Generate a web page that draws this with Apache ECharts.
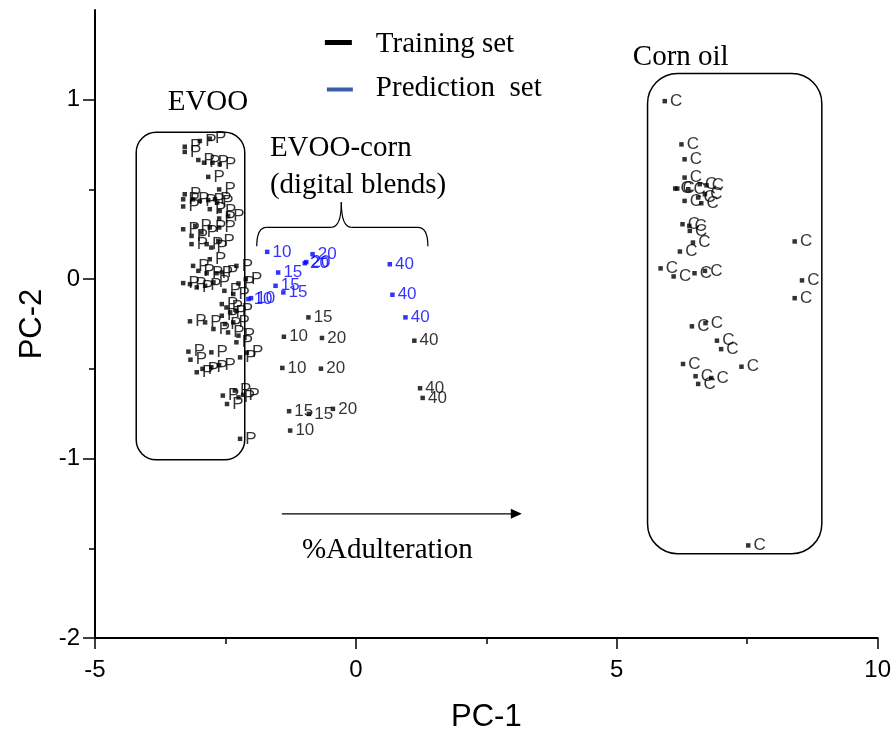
<!DOCTYPE html>
<html>
<head>
<meta charset="utf-8">
<script src="https://cdn.jsdelivr.net/npm/echarts@6/dist/echarts.min.js"></script>
<style>
  html, body { margin: 0; padding: 0; background: #fff; }
  #chart { width: 894px; height: 738px; }
</style>
</head>
<body>
<div id="chart"></div>
<script>
// PCA score plot: EVOO samples (P), corn oil samples (C) and digital EVOO-corn blends (% corn)

// EVOO samples
const evooX = [-3.28, -3.28, -2.99, -2.80, -3.02, -2.91, -2.75, -2.61, -2.83, -2.62,
  -3.28, -3.31, -3.31, -3.12, -2.99, -2.83, -2.70, -2.66, -2.80, -2.61,
  -2.62, -2.45, -3.31, -3.08, -3.15, -2.96, -2.80, -2.62, -3.15, -2.86,
  -2.64, -2.77, -2.80, -3.12, -3.02, -2.86, -2.67, -2.57, -2.29, -3.31,
  -3.18, -3.05, -2.89, -2.73, -2.52, -2.25, -2.11, -2.35, -2.57, -2.48,
  -2.41, -2.29, -3.18, -2.89, -2.73, -2.57, -2.51, -2.45, -2.35, -2.29,
  -2.25, -3.21, -3.17, -2.77, -3.05, -2.94, -2.77, -2.62, -2.22, -2.09,
  -2.55, -2.47, -2.32, -2.25, -2.16, -2.22];
const evooY = [0.738, 0.709, 0.770, 0.783, 0.664, 0.649, 0.649, 0.640, 0.570, 0.500,
  0.473, 0.445, 0.405, 0.445, 0.436, 0.440, 0.445, 0.427, 0.390, 0.380,
  0.338, 0.352, 0.278, 0.297, 0.241, 0.260, 0.288, 0.288, 0.195, 0.195,
  0.213, 0.176, 0.111, 0.074, 0.046, 0.033, 0.033, 0.037, 0.074, -0.022,
  -0.028, -0.046, -0.037, -0.018, -0.065, -0.024, 0.000, -0.083, -0.139, -0.158,
  -0.185, -0.176, -0.235, -0.241, -0.278, -0.204, -0.250, -0.297, -0.241, -0.352,
  -0.315, -0.404, -0.449, -0.408, -0.519, -0.500, -0.491, -0.479, -0.436, -0.410,
  -0.649, -0.696, -0.621, -0.659, -0.645, -0.890];

// Corn oil samples
const cornX = [5.92, 6.24, 6.30, 6.30, 6.12, 6.16, 6.37, 6.59, 6.72, 6.30,
  6.56, 6.62, 6.69, 6.26, 6.39, 6.40, 6.46, 6.21, 5.84, 6.09,
  6.49, 6.69, 8.41, 8.55, 8.41, 6.44, 6.70, 6.92, 7.00, 6.27,
  7.39, 6.51, 6.56, 6.81, 7.52];
const cornY = [0.992, 0.751, 0.668, 0.566, 0.505, 0.505, 0.501, 0.529, 0.523, 0.436,
  0.455, 0.423, 0.473, 0.306, 0.297, 0.269, 0.204, 0.154, 0.060, 0.015,
  0.033, 0.046, 0.210, -0.007, -0.106, -0.263, -0.245, -0.343, -0.390, -0.473,
  -0.488, -0.541, -0.584, -0.551, -1.484];

// Digital blends, training set
const trainX = [-0.91, -1.38, -0.65, -1.41, -0.67, 1.12, 1.23, 1.28, -1.28, -0.90, -0.44, -1.26];
const trainY = [-0.213, -0.321, -0.328, -0.495, -0.499, -0.343, -0.608, -0.662, -0.736, -0.751, -0.723, -0.844];
const trainPct = [15, 10, 20, 10, 20, 40, 40, 40, 15, 15, 20, 10];

// Digital blends, prediction set
const predX = [-1.70, -0.83, -0.98, -0.95, -1.49, -1.54, -1.39, -2.01, -2.06, 0.65, 0.70, 0.95];
const predY = [0.152, 0.139, 0.089, 0.095, 0.037, -0.037, -0.074, -0.106, -0.111, 0.083, -0.087, -0.213];
const predPct = [10, 20, 20, 20, 15, 15, 15, 10, 10, 40, 40, 40];

// Axis ticks
const xTicks = [-5, 0, 5, 10];
const yMajorTicks = [-2, -1, 0, 1];
const yMinorTicks = [-1.5, -0.5, 0.5];

const SANS = '"Liberation Sans", Arial, sans-serif';
const SERIF = '"Liberation Serif", "Times New Roman", serif';

const zip = (xs, ys, extra) => xs.map((x, i) => extra ? [x, ys[i], extra[i]] : [x, ys[i]]);

function pointSeries(name, data, color, labelFn) {
  return {
    name: name,
    type: 'scatter',
    symbol: 'rect',
    symbolSize: 4.5,
    itemStyle: { color: color },
    data: data,
    label: {
      show: true,
      position: 'right',
      distance: 3,
      formatter: labelFn,
      color: color,
      fontFamily: SANS,
      fontSize: 17
    },
    emphasis: { disabled: true }
  };
}

const chart = echarts.init(document.getElementById('chart'), null, { renderer: 'canvas' });

const option = {
  animation: false,
  backgroundColor: '#fff',
  grid: { left: 95, right: 16, top: 10, bottom: 98 },
  xAxis: {
    type: 'value',
    min: -5, max: 10, interval: 5,
    name: 'PC-1',
    nameLocation: 'middle',
    nameGap: 64,
    nameTextStyle: { fontFamily: SANS, fontSize: 31, color: '#000' },
    axisLine: { onZero: false, lineStyle: { color: '#000', width: 2 } },
    axisTick: { show: true, length: 11, lineStyle: { color: '#000', width: 1.5 }, customValues: xTicks },
    minorTick: { show: true, splitNumber: 2, length: 6, lineStyle: { color: '#000', width: 1.5 } },
    axisLabel: { fontFamily: SANS, fontSize: 24, color: '#000', margin: 20, customValues: xTicks },
    splitLine: { show: false }
  },
  yAxis: [{
    type: 'value',
    min: -2, max: 1.5,
    name: 'PC-2',
    nameLocation: 'middle',
    nameGap: 46,
    nameTextStyle: { fontFamily: SANS, fontSize: 31, color: '#000' },
    axisLine: { show: true, onZero: false, lineStyle: { color: '#000', width: 2 } },
    axisTick: { show: true, length: 12, lineStyle: { color: '#000', width: 1.5 }, customValues: yMajorTicks },
    axisLabel: { fontFamily: SANS, fontSize: 24, color: '#000', margin: 15, customValues: yMajorTicks },
    splitLine: { show: false }
  }, {
    // companion axis carrying the half-unit minor ticks
    type: 'value',
    min: -2, max: 1.5,
    position: 'left',
    axisLine: { show: false, onZero: false },
    axisTick: { show: true, length: 6, lineStyle: { color: '#000', width: 1.5 }, customValues: yMinorTicks },
    axisLabel: { show: false },
    splitLine: { show: false }
  }],
  series: [
    pointSeries('EVOO', zip(evooX, evooY), '#000', () => 'P'),
    pointSeries('Corn oil', zip(cornX, cornY), '#000', () => 'C'),
    pointSeries('Training set', zip(trainX, trainY, trainPct), '#000', p => String(p.value[2])),
    pointSeries('Prediction set', zip(predX, predY, predPct), '#0000ff', p => String(p.value[2]))
  ]
};

chart.setOption(option);

// Annotations placed in data units, converted through the grid's scales
const px = (x, y) => chart.convertToPixel({ gridIndex: 0 }, [x, y]);

function roundBox(x0, y0, x1, y1, r) {
  const a = px(x0, y0), b = px(x1, y1);
  return {
    type: 'rect',
    shape: { x: a[0], y: a[1], width: b[0] - a[0], height: b[1] - a[1], r: r },
    style: { fill: 'none', stroke: '#000', lineWidth: 1.5 },
    z: 1
  };
}

function note(text, x, y, align) {
  const p = px(x, y);
  return {
    type: 'text',
    x: p[0], y: p[1],
    style: { text: text, font: '29px ' + SERIF, fill: '#000', align: align || 'left', verticalAlign: 'middle' },
    z: 5
  };
}

function seg(x1, y1, x2, y2, color, width) {
  return {
    type: 'line',
    shape: { x1: x1, y1: y1, x2: x2, y2: y2 },
    style: { stroke: color, lineWidth: width },
    z: 5
  };
}

function curve(x1, y1, cx, cy, x2, y2) {
  return {
    type: 'bezierCurve',
    shape: { x1: x1, y1: y1, cpx1: cx, cpy1: cy, x2: x2, y2: y2 },
    style: { fill: 'none', stroke: '#000', lineWidth: 1.2 },
    z: 5
  };
}

function legendLine(x0, x1, y, color, width) {
  const a = px(x0, y), b = px(x1, y);
  return seg(a[0], a[1], b[0], b[1], color, width);
}

// curly brace over the blend points
function brace(xl, xr, yEnd, yBar, yTip) {
  const L = px(xl, yEnd), R = px(xr, yEnd);
  const yb = px(0, yBar)[1], yt = px(0, yTip)[1];
  const xm = (L[0] + R[0]) / 2 - 1;
  const k = 10;
  return [
    curve(L[0], L[1], L[0], yb, L[0] + k, yb),
    seg(L[0] + k, yb, xm - k, yb, '#000', 1.2),
    curve(xm - k, yb, xm, yb, xm, yt),
    curve(xm, yt, xm, yb, xm + k, yb),
    seg(xm + k, yb, R[0] - k, yb, '#000', 1.2),
    curve(R[0] - k, yb, R[0], yb, R[0], R[1])
  ];
}

function arrow(x0, x1, y) {
  const a = px(x0, y), b = px(x1, y);
  return [
    seg(a[0], a[1], b[0] - 8, b[1], '#000', 1.2),
    {
      type: 'polygon',
      shape: { points: [[b[0], b[1]], [b[0] - 11, b[1] - 5], [b[0] - 11, b[1] + 5]] },
      style: { fill: '#000' },
      z: 5
    }
  ];
}

chart.setOption({
  graphic: [
    roundBox(-4.21, 0.818, -2.13, -1.007, 20),
    roundBox(5.59, 1.146, 8.93, -1.530, 30),
    note('EVOO', -2.835, 0.985, 'center'),
    note('Corn oil', 6.226, 1.235, 'center'),
    note('EVOO-corn', -1.648, 0.730),
    note('(digital blends)', -1.648, 0.523),
    note('%Adulteration', -1.034, -1.514),
    ...brace(-1.90, 1.38, 0.184, 0.289, 0.428),
    ...arrow(-1.42, 3.18, -1.308),
    legendLine(-0.594, -0.077, 1.319, '#000', 5),
    note('Training set', 0.383, 1.307),
    legendLine(-0.556, -0.058, 1.057, '#3b5ca8', 4),
    note('Prediction  set', 0.383, 1.063)
  ]
});
</script>
</body>
</html>
